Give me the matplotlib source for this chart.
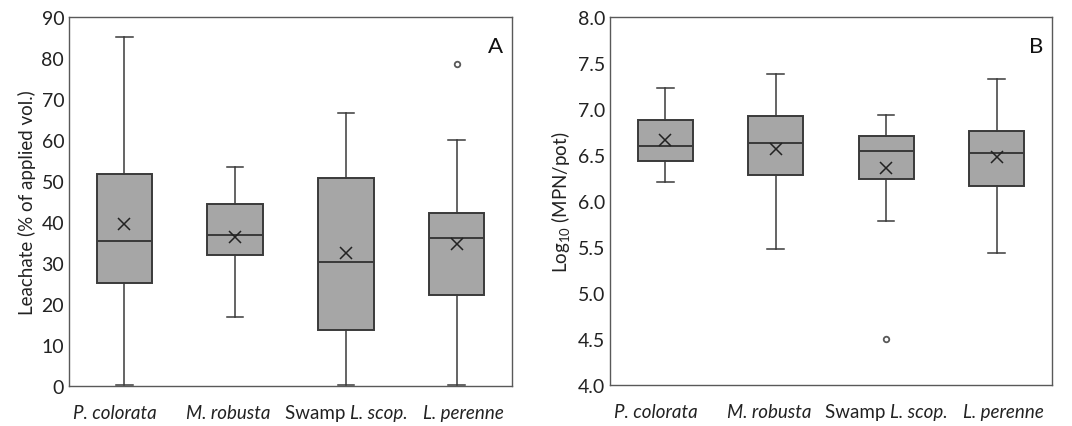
import matplotlib
matplotlib.use("Agg")
import matplotlib.pyplot as plt

plt.rcParams['font.family'] = ['Lato', 'DejaVu Sans']
plt.rcParams['mathtext.fontset'] = 'custom'
plt.rcParams['mathtext.rm'] = 'Lato'
plt.rcParams['mathtext.it'] = 'Lato:italic'

# Each label: list of (text piece, italic?)
categories = [[("P. colorata", True)],
              [("M. robusta", True)],
              [("Swamp ", False), ("L. scop.", True)],
              [("L. perenne", True)]]

# Panel A: Leachate (% of applied vol.)
a_whislo = [0.3, 16.8, 0.3, 0.3]
a_q1 = [25.1, 32.0, 13.6, 22.3]
a_med = [35.4, 36.9, 30.2, 36.1]
a_q3 = [51.6, 44.3, 50.7, 42.2]
a_whishi = [85.1, 53.3, 66.6, 59.9]
a_mean = [39.4, 36.3, 32.4, 34.7]
a_fliers = [[], [], [], [78.6]]

# Panel B: Log10 (MPN/pot)
b_whislo = [6.21, 5.48, 5.78, 5.43]
b_q1 = [6.43, 6.28, 6.24, 6.16]
b_med = [6.60, 6.63, 6.54, 6.52]
b_q3 = [6.88, 6.92, 6.71, 6.76]
b_whishi = [7.23, 7.38, 6.94, 7.33]
b_mean = [6.66, 6.57, 6.36, 6.48]
b_fliers = [[], [], [4.50], []]

DPI = 100
fig = plt.figure(figsize=(10.72, 4.27), dpi=DPI)
axA = fig.add_axes([0.0644, 0.0937, 0.4132, 0.8642])
axB = fig.add_axes([0.569, 0.0960, 0.4123, 0.8619])
renderer = fig.canvas.get_renderer()

edge = '#3a3a3a'
fill = '#a6a6a6'
XFS = 13.5
positions = [0.5, 1.5, 2.5, 3.5]
label_shift_pt = [-7, -5, 0, 5]   # small horizontal nudges of the category labels


def xlabels(ax):
    ax.set_xticks(positions)
    ax.set_xticklabels([])
    for pos, pieces, sh in zip(positions, categories, label_shift_pt):
        texts = []
        widths = []
        for s, it in pieces:
            t = ax.annotate(s, xy=(pos, 0), xycoords=('data', 'axes fraction'),
                            xytext=(0, -13), textcoords='offset points',
                            ha='left', va='top', fontsize=XFS,
                            fontstyle='italic' if it else 'normal',
                            color='#222222')
            texts.append(t)
            bb = t.get_window_extent(renderer)
            widths.append(bb.width * 72.0 / DPI)
        total = sum(widths)
        x = -total / 2.0 + sh
        for t, w in zip(texts, widths):
            t.set_position((x, -13))
            x += w


def draw(ax, whislo, q1, med, q3, whishi, mean, fliers):
    stats = []
    for i in range(len(categories)):
        stats.append(dict(whislo=whislo[i], q1=q1[i], med=med[i], q3=q3[i],
                          whishi=whishi[i], mean=mean[i], fliers=fliers[i]))
    ax.bxp(stats, positions=positions, widths=0.5,
           patch_artist=True, showmeans=True, showfliers=True,
           boxprops=dict(facecolor=fill, edgecolor=edge, linewidth=1.4),
           medianprops=dict(color=edge, linewidth=1.4),
           whiskerprops=dict(color=edge, linewidth=1.1),
           capprops=dict(color=edge, linewidth=1.1),
           capwidths=0.15,
           meanprops=dict(marker='x', markeredgecolor='#222222',
                          markersize=8.5, markeredgewidth=1.1),
           flierprops=dict(marker='o', markerfacecolor='none',
                           markeredgecolor='#595959', markersize=4,
                           markeredgewidth=1.3))
    ax.set_xlim(0, 4)
    ax.tick_params(axis='both', length=0, colors='#222222')
    ax.tick_params(axis='y', labelsize=14)
    xlabels(ax)
    for s in ax.spines.values():
        s.set_color('#595959')
        s.set_linewidth(1.0)


draw(axA, a_whislo, a_q1, a_med, a_q3, a_whishi, a_mean, a_fliers)
axA.set_ylim(0, 90)
axA.set_yticks(range(0, 91, 10))
axA.set_ylabel('Leachate (% of applied vol.)', fontsize=13.5, color='#222222')
axA.text(0.963, 0.92, 'A', transform=axA.transAxes, fontsize=16,
         ha='center', va='center', color='#111111')

draw(axB, b_whislo, b_q1, b_med, b_q3, b_whishi, b_mean, b_fliers)
axB.set_ylim(4.0, 8.0)
axB.set_yticks([4.0, 4.5, 5.0, 5.5, 6.0, 6.5, 7.0, 7.5, 8.0])
axB.set_yticklabels(['4.0', '4.5', '5.0', '5.5', '6.0', '6.5', '7.0', '7.5', '8.0'])
axB.set_ylabel(r'Log$_{10}$ (MPN/pot)', fontsize=13.5, color='#222222')
axB.text(0.965, 0.92, 'B', transform=axB.transAxes, fontsize=16,
         ha='center', va='center', color='#111111')

fig.savefig('out.png', dpi=DPI)
